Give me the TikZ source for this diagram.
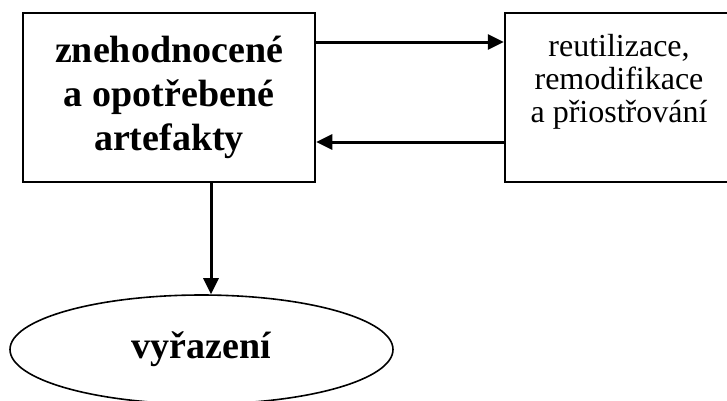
\documentclass[tikz,border=0pt]{standalone}
\usepackage{fontspec}
\setmainfont{Liberation Serif}
\usetikzlibrary{arrows.meta,shapes.geometric}
\begin{document}
\begin{tikzpicture}[x=1pt,y=-1pt,
  box/.style={draw,line width=2.5pt,rectangle,inner sep=0pt},
  oval/.style={draw,line width=1.6pt,ellipse,inner sep=0pt},
  boldtext/.style={font=\fontsize{38}{44}\selectfont\bfseries,align=center},
  plaintext/.style={font=\fontsize{32}{33}\selectfont,align=center},
  arr/.style={line width=3pt,-{Triangle[length=16pt,width=15pt]}}]
\useasboundingbox (0,0) rectangle (727,400);
\fill[white] (0,0) rectangle (727,400);
% source box
\node[box,minimum width=292pt,minimum height=169pt] (L) at (169,97.5) {};
\node[boldtext] (Lt) at (L.center) {znehodnocené\\a opotřebené\\artefakty};
% processing box, running past the right edge
\node[box,minimum width=225pt,minimum height=169pt] (R) at (617.5,97.5) {};
\node[plaintext] (Rt) at (619,82) {reutilizace,\\remodifikace\\a přiostřování};
% end state
\node[oval,minimum width=383pt,minimum height=109pt] (E) at (201.5,349.5) {};
\node[boldtext] (Et) at (E.center) {vyřazení};
% connectors
\draw[arr] ([yshift=55.5pt]L.east) -- ([yshift=55.5pt]R.west);
\draw[arr] ([yshift=-44.5pt]R.west) -- ([yshift=-44.5pt]L.east);
\coordinate (D) at ([xshift=42pt]L.south);
\draw[arr] (D) -- (D |- E.north);
\end{tikzpicture}
\end{document}
